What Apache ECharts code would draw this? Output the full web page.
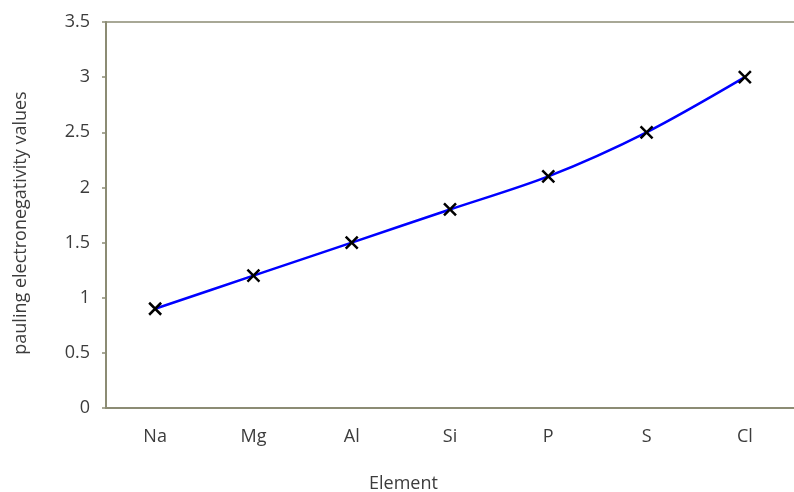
<!DOCTYPE html>
<html>
<head>
<meta charset="utf-8">
<script src="https://cdn.jsdelivr.net/npm/echarts@6/dist/echarts.min.js"></script>
<style>
  html, body { margin: 0; padding: 0; background: #fff; }
  #chart { width: 794px; height: 492px; }
</style>
</head>
<body>
<div id="chart"></div>
<script>
const elements = ['Na', 'Mg', 'Al', 'Si', 'P', 'S', 'Cl']
const electronegativity = [0.9, 1.2, 1.5, 1.8, 2.1, 2.5, 3.0]
const yTicks = { min: 0, max: 3.5, interval: 0.5 }

const axisColor = '#8c8c74'
const textColor = '#3c3c3c'
const font = 'Open Sans'

const myChart = echarts.init(document.getElementById('chart'))
myChart.setOption({
  animation: false,
  grid: {
    left: 106,
    top: 22,
    width: 691,
    height: 386,
  },
  graphic: [
    {
      type: 'text',
      left: 369,
      top: 475,
      style: {
        text: 'Element',
        fill: textColor,
        font: '18px "Open Sans"',
      },
    },
  ],
  xAxis: [
    {
      type: 'category',
      data: elements,
      boundaryGap: true,
      axisLine: { lineStyle: { color: axisColor, width: 2 } },
      axisTick: { show: false },
      axisLabel: {
        color: textColor,
        fontFamily: font,
        fontSize: 18,
        margin: 20,
      },
      splitLine: { show: false },
    },
    {
      // top border of the plot area
      type: 'category',
      position: 'top',
      data: elements,
      axisLine: { lineStyle: { color: axisColor, width: 1.5 } },
      axisTick: { show: false },
      axisLabel: { show: false },
      splitLine: { show: false },
    },
  ],
  yAxis: {
    type: 'value',
    min: yTicks.min,
    max: yTicks.max,
    interval: yTicks.interval,
    name: 'pauling electronegativity values',
    nameLocation: 'middle',
    nameGap: 76,
    nameTextStyle: {
      color: textColor,
      fontFamily: font,
      fontSize: 18,
      padding: [0, 16, 0, 0],
    },
    axisLine: { show: true, lineStyle: { color: axisColor, width: 2 } },
    axisTick: { show: true, length: 4, lineStyle: { color: axisColor, width: 1.5 } },
    axisLabel: {
      color: textColor,
      fontFamily: font,
      fontSize: 18,
      margin: 16,
    },
    splitLine: { show: false },
  },
  series: [
    {
      type: 'line',
      data: electronegativity,
      smooth: 0.3,
      symbol: 'path://M0,0L10,10M10,0L0,10',
      symbolSize: 12,
      itemStyle: {
        color: 'none',
        borderColor: '#000',
        borderWidth: 2.5,
      },
      lineStyle: {
        color: '#0000ff',
        width: 2.5,
      },
    },
  ],
})
</script>
</body>
</html>
